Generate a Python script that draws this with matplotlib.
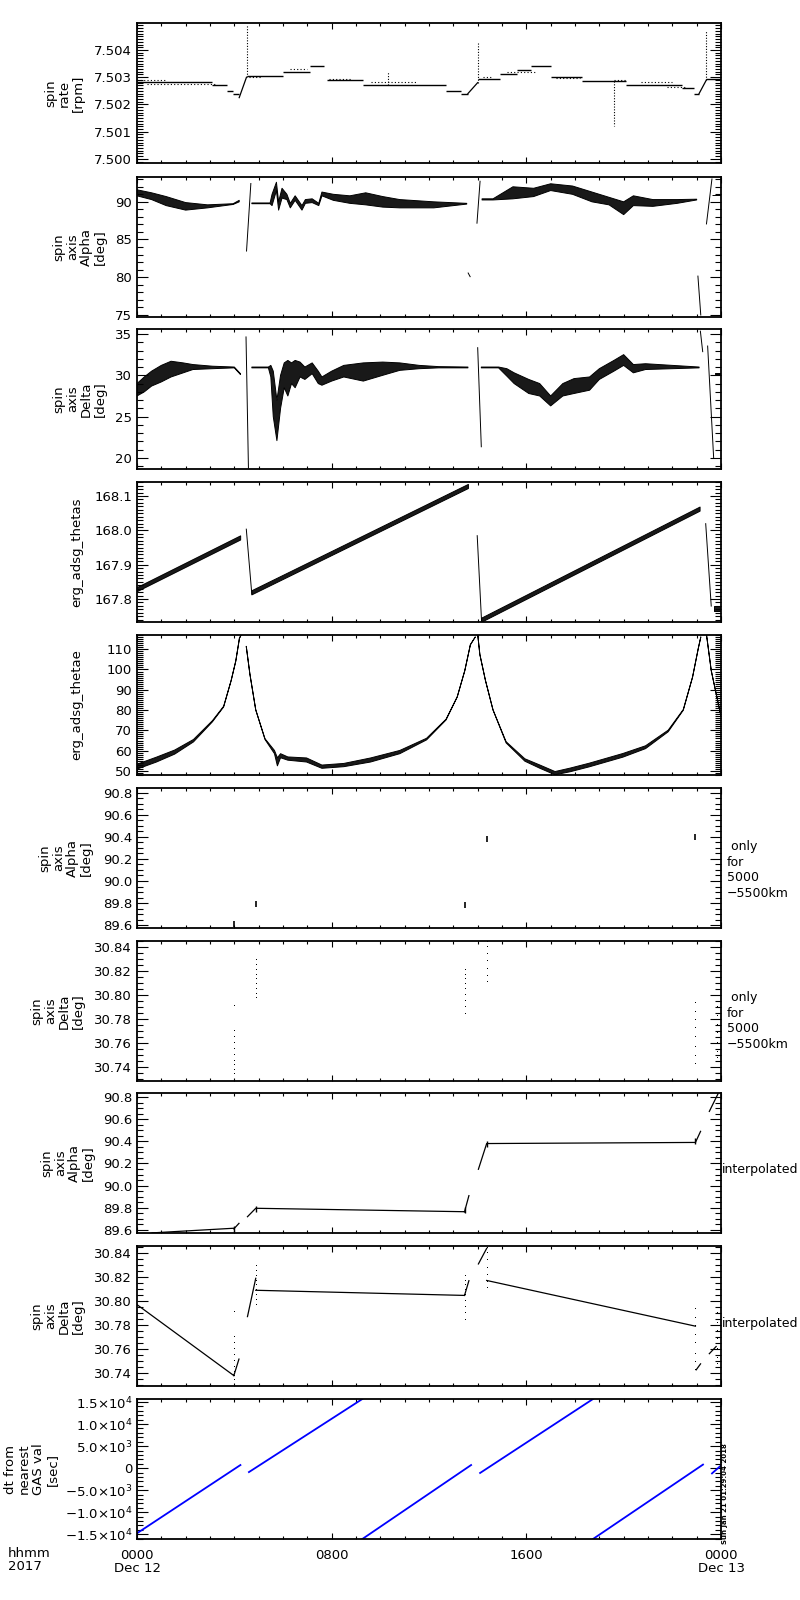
import numpy as np
import matplotlib
matplotlib.use("Agg")
import matplotlib.pyplot as plt
from matplotlib.ticker import MultipleLocator, FixedLocator, FormatStrFormatter, FixedFormatter

nan = np.nan

# time axis in hours after 0000 Dec 12 2017
xtick_hours = [0, 8, 16, 24]
xtick_labels = ["0000\nDec 12", "0800", "1600", "0000\nDec 13"]

# ---- panel 1: spin rate [rpm]
rate_level_start = [0.0, 3.1, 3.7, 3.95, 4.5, 6.0, 7.1, 7.8, 9.3, 12.7, 13.3, 14.0, 14.9, 15.6, 16.2, 17.0, 18.3, 20.1, 22.4, 22.9, 23.4]
rate_level_end = [3.1, 3.7, 3.95, 4.2, 6.0, 7.1, 7.7, 9.3, 12.7, 13.3, 13.6, 14.9, 15.6, 16.2, 17.0, 18.3, 20.1, 22.4, 22.9, 23.1, 24.0]
rate_level = [7.50284, 7.5027, 7.5025, 7.5024, 7.50305, 7.5032, 7.5034, 7.5029, 7.5027, 7.5025, 7.5024,
              7.50295, 7.5031, 7.50325, 7.5034, 7.5030, 7.50285, 7.5027, 7.5026, 7.5024, 7.50295]
rate_dot_start = [0.0, 0.4, 4.6, 6.3, 7.9, 9.6, 14.2, 15.2, 17.2, 19.6, 20.7, 21.8]
rate_dot_end = [1.2, 3.2, 5.1, 7.0, 8.8, 11.5, 14.6, 16.4, 18.2, 20.1, 22.0, 22.6]
rate_dot_v = [7.5029, 7.50275, 7.5030, 7.5033, 7.50295, 7.50282, 7.5030, 7.5032, 7.50297, 7.5029, 7.50282, 7.50265]
rate_ramp_t = [4.2, 4.5, nan, 13.6, 14.0, nan, 23.1, 23.4]
rate_ramp_v = [7.50225, 7.5030, nan, 7.5024, 7.5028, nan, 7.5024, 7.5029]
rate_spike_t = [4.5, 10.3, 14.0, 19.6, 23.4]
rate_spike_base = [7.5030, 7.5027, 7.5028, 7.50285, 7.5029]
rate_spike_tip = [7.5049, 7.5032, 7.5043, 7.50122, 7.5047]

# ---- panel 2: spin axis alpha [deg], noisy band given by lower/upper edge
alpha_t = [0.0, 0.6, 1.2, 2.0, 2.9, 3.95, 4.2, nan,
           4.5, 4.68, nan,
           4.72, 5.47, 5.55, 5.73, 5.82, 5.96, 6.16, 6.3, 6.5, 6.78, 6.92, 7.2, 7.47, 7.6, 8.07, 8.75, 9.4,
           10.1, 10.8, 12.2, 13.55, nan,
           13.6, 13.7, nan,
           13.97, 14.1, nan,
           14.18, 14.63, 15.45, 16.3, 17.0, 17.9, 18.7, 19.4, 20.0, 20.4, 21.2, 22.2, 23.0, nan,
           23.05, 23.17, nan,
           23.4, 23.63, nan,
           23.63, 24.0]
alpha_lo = [90.8, 90.3, 89.5, 88.9, 89.2, 89.65, 90.0, nan,
            83.4, 92.5, nan,
            89.75, 89.75, 89.5, 91.5, 88.9, 90.5, 90.3, 89.2, 90.2, 88.9, 89.8, 89.9, 89.5, 90.8, 90.2, 89.8, 89.6,
            89.3, 89.2, 89.2, 89.7, nan,
            80.6, 80.0, nan,
            87.1, 92.8, nan,
            90.25, 90.25, 90.4, 90.7, 91.5, 91.0, 90.0, 89.6, 88.3, 89.5, 89.4, 89.8, 90.25, nan,
            80.2, 74.9, nan,
            87.0, 93.1, nan,
            90.85, 90.85]
alpha_hi = [91.6, 91.2, 90.7, 89.9, 89.6, 89.75, 90.2, nan,
            83.4, 92.5, nan,
            89.85, 89.85, 91.0, 92.6, 90.0, 91.8, 91.0, 89.8, 90.8, 89.5, 90.3, 90.4, 89.8, 91.3, 91.0, 90.8, 91.2,
            90.7, 90.3, 90.0, 89.8, nan,
            80.6, 80.0, nan,
            87.1, 92.8, nan,
            90.4, 90.4, 92.0, 91.8, 92.4, 92.1, 91.3, 90.6, 90.0, 90.8, 90.3, 90.3, 90.35, nan,
            80.2, 74.9, nan,
            87.0, 93.1, nan,
            90.95, 90.95]

# ---- panel 3: spin axis delta [deg]
delta_t = [0.0, 0.3, 0.6, 1.0, 1.4, 1.9, 2.3, 3.1, 4.0, 4.25, nan,
           4.48, 4.58, nan,
           4.72, 5.4, 5.5, 5.6, 5.75, 5.9, 6.05, 6.2, 6.35, 6.5, 6.7, 6.9, 7.2, 7.45, 7.6, 8.0, 8.5, 9.3, 10.1,
           10.8, 11.6, 12.4, 13.6, nan,
           14.0, 14.15, nan,
           14.15, 14.86, 15.2, 15.5, 16.1, 16.55, 17.0, 17.5, 17.96, 18.6, 19.0, 19.6, 20.0, 20.4, 20.9, 22.0,
           23.1, nan,
           23.15, 23.25, nan,
           23.45, 23.7, nan,
           23.75, 24.0]
delta_lo = [27.5, 28.0, 28.7, 29.2, 29.8, 30.3, 30.7, 30.8, 30.9, 30.1, nan,
            34.7, 18.7, nan,
            30.9, 30.9, 29.8, 25.0, 22.1, 26.0, 28.5, 27.5, 29.0, 28.5, 29.8, 29.5, 30.2, 29.0, 28.8, 29.3, 29.8,
            29.3, 30.0, 30.6, 30.8, 30.9, 30.9, nan,
            33.4, 21.3, nan,
            30.9, 30.9, 29.9, 29.0, 27.8, 27.5, 26.3, 27.5, 27.8, 28.2, 29.5, 30.5, 31.2, 30.3, 30.7, 30.8,
            30.9, nan,
            35.4, 32.8, nan,
            33.6, 19.9, nan,
            30.1, 30.1]
delta_hi = [29.0, 29.8, 30.5, 31.2, 31.7, 31.5, 31.3, 31.1, 31.0, 30.2, nan,
            34.7, 18.7, nan,
            31.0, 31.0, 31.2, 30.5, 27.0, 30.0, 31.5, 31.8, 31.5, 31.8, 31.6, 31.0, 31.5, 30.5, 29.8, 30.5, 31.2,
            31.5, 31.6, 31.5, 31.2, 31.05, 31.0, nan,
            33.4, 21.3, nan,
            31.0, 31.0, 30.8, 30.3, 29.5, 29.0, 27.5, 29.0, 29.6, 29.8, 30.8, 31.8, 32.5, 31.3, 31.4, 31.2,
            31.0, nan,
            35.4, 32.8, nan,
            33.6, 19.9, nan,
            30.3, 30.3]

# ---- panel 4: erg_adsg_thetas (centre value and half width of the band)
thetas_t = [0.0, 4.26, nan, 4.49, 4.72, nan, 4.72, 13.62, nan, 13.98, 14.16, nan, 14.16, 23.14, nan,
            23.37, 23.6, nan, 23.7, 24.0]
thetas_v = [167.827, 167.978, nan, 168.005, 167.813, nan, 167.818, 168.128, nan, 167.986, 167.735, nan,
            167.738, 168.062, nan, 168.021, 167.778, nan, 167.772, 167.772]
thetas_w = [0.006, 0.006, nan, 0.0, 0.0, nan, 0.006, 0.006, nan, 0.0, 0.0, nan, 0.006, 0.006, nan,
            0.0, 0.0, nan, 0.008, 0.008]

# ---- panel 5: erg_adsg_thetae
thetae_t = [0.0, 0.8, 1.55, 2.32, 3.1, 3.56, 3.87, 4.06, 4.21, 4.3, nan,
            4.49, 4.64, 4.88, 5.26, 5.65, 5.77, 5.9, 6.2, 6.97, 7.6, 8.5, 9.6, 10.8, 11.9, 12.7, 13.16, 13.47,
            13.7, 13.9, nan,
            14.0, 14.09, 14.32, 14.63, 15.17, 15.94, 16.56, 17.18, 17.8, 18.58, 19.97, 20.9, 21.83, 22.45, 22.83,
            23.07, 23.17, nan,
            23.4, 23.6, 24.0]
thetae_v = [52.1, 55.6, 59.3, 64.9, 74.5, 81.7, 94.6, 104.2, 115.4, 117.5, nan,
            111.4, 97.7, 80.1, 65.7, 59.3, 54.5, 57.5, 56.1, 55.4, 52.1, 52.9, 55.4, 59.3, 65.7, 75.3, 86.5, 99.4,
            112.2, 116.0, nan,
            117.5, 107.4, 94.6, 80.1, 64.1, 55.4, 52.1, 48.9, 50.5, 52.9, 57.7, 61.7, 69.7, 80.1, 96.2,
            110.6, 116.0, nan,
            117.5, 99.4, 76.9]
thetae_w = [1.2, 1.2, 1.0, 0.6, 0.3, 0.2, 0.0, 0.0, 0.0, 0.0, nan,
            0.0, 0.0, 0.0, 0.2, 0.8, 2.0, 1.0, 0.8, 1.0, 0.8, 0.8, 1.0, 0.8, 0.4, 0.2, 0.0, 0.0,
            0.0, 0.0, nan,
            0.0, 0.0, 0.0, 0.0, 0.3, 0.6, 0.8, 0.8, 0.9, 0.9, 0.9, 0.7, 0.4, 0.2, 0.0,
            0.0, 0.0, nan,
            0.0, 0.0, 0.0]

# ---- panels 6 and 7: values only for 5000-5500 km
alpha_sel_t = [3.98, 4.88, 13.46, 14.37, 22.95]
alpha_sel_v = [89.61, 89.79, 89.78, 90.38, 90.40]
delta_sel_t = [3.98] * 10 + [4.88] * 9 + [13.46] * 9 + [14.37] * 7 + [22.95] * 8 + [23.83] * 7
delta_sel_v = [30.791, 30.770, 30.765, 30.760, 30.755, 30.750, 30.745, 30.741, 30.737, 30.734,
               30.829, 30.825, 30.821, 30.817, 30.813, 30.809, 30.805, 30.801, 30.797,
               30.821, 30.817, 30.813, 30.809, 30.805, 30.800, 30.795, 30.790, 30.784,
               30.844, 30.840, 30.834, 30.828, 30.822, 30.816, 30.811,
               30.793, 30.786, 30.779, 30.772, 30.765, 30.756, 30.749, 30.742,
               30.790, 30.782, 30.775, 30.768, 30.760, 30.752, 30.747]

# ---- panels 8 and 9: interpolated
alpha_int_t = [0.62, 3.98, nan, 3.98, 4.19, nan, 4.54, 4.88, 13.46, nan, 13.46, 13.64, nan,
               14.03, 14.37, 22.95, nan, 22.95, 23.16, nan, 23.52, 23.88]
alpha_int_v = [89.574, 89.616, nan, 89.61, 89.66, nan, 89.72, 89.796, 89.765, nan, 89.765, 89.91, nan,
               90.148, 90.38, 90.39, nan, 90.39, 90.49, nan, 90.67, 90.83]
delta_int_t = [0.0, 3.98, nan, 3.98, 4.19, nan, 4.54, 4.88, nan, 4.88, 13.46, nan, 13.46, 13.64, nan,
               14.03, 14.37, nan, 14.37, 22.95, nan, 22.98, 23.16, nan, 23.52, 23.8]
delta_int_v = [30.797, 30.7377, nan, 30.7377, 30.7515, nan, 30.787, 30.819, nan, 30.809, 30.8047, nan,
               30.8047, 30.817, nan, 30.831, 30.844, nan, 30.8172, 30.779, nan, 30.7425, 30.7475, nan,
               30.756, 30.762]

# ---- panel 10: dt from nearest GAS value [sec]
dt_t = [0.0, 4.25, nan, 4.6, 9.26, nan, 9.26, 13.73, nan, 14.1, 18.74, nan, 18.74, 23.26, nan, 23.63, 24.0]
dt_v = [-14800, 700, nan, -900, 15700, nan, -16100, 700, nan, -1100, 15700, nan, -16100, 800, nan, -1200, 600]
dt_ticks = [-15000, -10000, -5000, 0, 5000, 10000, 15000]
dt_tick_labels = [r"$-1.5{\times}10^{4}$", r"$-1.0{\times}10^{4}$", r"$-5.0{\times}10^{3}$", "0",
                  r"$5.0{\times}10^{3}$", r"$1.0{\times}10^{4}$", r"$1.5{\times}10^{4}$"]

ylabels = ["spin\nrate\n[rpm]", "spin\naxis\nAlpha\n[deg]", "spin\naxis\nDelta\n[deg]",
           "erg_adsg_thetas", "erg_adsg_thetae", "spin\naxis\nAlpha\n[deg]", "spin\naxis\nDelta\n[deg]",
           "spin\naxis\nAlpha\n[deg]", "spin\naxis\nDelta\n[deg]", "dt from\nnearest\nGAS val\n[sec]"]

plt.rcParams["font.family"] = ["DejaVu Sans"]
plt.rcParams["mathtext.fontset"] = "dejavusans"

W, H = 800, 1600
fig = plt.figure(figsize=(W / 100, H / 100), dpi=100)

panel_top = [23, 177, 329, 482, 635, 788, 941, 1093, 1246, 1399]
panel_h = 140
label_right = [85, 107, 107, 83, 83, 93, 85, 95, 85, 59]


def make_axes(i, ylim, majors, minor, fmt):
    top = panel_top[i]
    ax = fig.add_axes([137 / W, 1 - (top + panel_h) / H, 584 / W, panel_h / H])
    ax.set_xlim(0, 24)
    ax.set_ylim(*ylim)
    ax.xaxis.set_major_locator(FixedLocator(xtick_hours))
    ax.xaxis.set_minor_locator(MultipleLocator(1))
    ax.yaxis.set_major_locator(FixedLocator(majors))
    ax.yaxis.set_minor_locator(MultipleLocator(minor))
    if fmt:
        ax.yaxis.set_major_formatter(FormatStrFormatter(fmt))
    ax.tick_params(which="both", direction="in", top=True, right=True, width=0.8,
                   labelsize=9.5, pad=3.5, labelbottom=False)
    ax.tick_params(axis="y", which="major", length=8)
    ax.tick_params(axis="y", which="minor", length=4.5)
    ax.tick_params(axis="x", which="major", length=4.5)
    ax.tick_params(axis="x", which="minor", length=2.3)
    for s in ax.spines.values():
        s.set_linewidth(1.3)
    fig.text(label_right[i] / W, 1 - (top + panel_h / 2) / H, ylabels[i], rotation=90,
             ha="right", va="center", multialignment="center", fontsize=9.5, linespacing=1.1)
    return ax


def band(ax, t, lo, hi):
    ax.fill_between(t, lo, hi, facecolor=(0, 0, 0, 0.9), edgecolor="black", linewidth=0.7)


# panel 1
ax = make_axes(0, (7.49985, 7.50499), [7.500, 7.501, 7.502, 7.503, 7.504], 0.0001, "%.3f")
ax.hlines(rate_level, rate_level_start, rate_level_end, color="black", linewidth=1.0)
ax.hlines(rate_dot_v, rate_dot_start, rate_dot_end, color="black", linewidth=0.8, linestyles=(0, (1, 2)))
ax.plot(rate_ramp_t, rate_ramp_v, color="black", linewidth=0.9)
ax.vlines(rate_spike_t, rate_spike_base, rate_spike_tip, color="black", linewidth=0.8, linestyles=(0, (1, 1.5)))

# panel 2
ax = make_axes(1, (74.7, 93.3), [75, 80, 85, 90], 1, "%d")
band(ax, alpha_t, alpha_lo, alpha_hi)

# panel 3
ax = make_axes(2, (18.67, 35.6), [20, 25, 30, 35], 1, "%d")
band(ax, delta_t, delta_lo, delta_hi)

# panel 4
ax = make_axes(3, (167.733, 168.141), [167.8, 167.9, 168.0, 168.1], 0.01, "%.1f")
tv, tw = np.array(thetas_v), np.array(thetas_w)
band(ax, thetas_t, tv - tw, tv + tw)

# panel 5
ax = make_axes(4, (48, 117), [50, 60, 70, 80, 90, 100, 110], 1, "%d")
ev, ew = np.array(thetae_v), np.array(thetae_w)
band(ax, thetae_t, ev - ew, ev + ew)

# panel 6
ax = make_axes(5, (89.573, 90.845), [89.6, 89.8, 90.0, 90.2, 90.4, 90.6, 90.8], 0.05, "%.1f")
ax.plot(alpha_sel_t, alpha_sel_v, linestyle="none", marker="|", markersize=5, color="black", markeredgewidth=1.2)
fig.text(727 / W, 1 - 870 / H, " only\nfor\n5000\n\u22125500km", ha="left", va="center", fontsize=9, linespacing=1.25)

# panel 7
ax = make_axes(6, (30.728, 30.845), [30.74, 30.76, 30.78, 30.80, 30.82, 30.84], 0.005, "%.2f")
ax.plot(delta_sel_t, delta_sel_v, linestyle="none", marker=",", color="black")
fig.text(727 / W, 1 - 1021 / H, " only\nfor\n5000\n\u22125500km", ha="left", va="center", fontsize=9, linespacing=1.25)

# panel 8
ax = make_axes(7, (89.573, 90.836), [89.6, 89.8, 90.0, 90.2, 90.4, 90.6, 90.8], 0.05, "%.1f")
ax.plot(alpha_int_t, alpha_int_v, color="black", linewidth=0.9)
ax.plot(alpha_sel_t, alpha_sel_v, linestyle="none", marker="|", markersize=5, color="black", markeredgewidth=1.0)
fig.text(722 / W, 1 - 1170 / H, "interpolated", ha="left", va="center", fontsize=9)

# panel 9
ax = make_axes(8, (30.729, 30.846), [30.74, 30.76, 30.78, 30.80, 30.82, 30.84], 0.005, "%.2f")
ax.plot(delta_int_t, delta_int_v, color="black", linewidth=0.9)
ax.plot(delta_sel_t, delta_sel_v, linestyle="none", marker=",", color="black")
fig.text(722 / W, 1 - 1323 / H, "interpolated", ha="left", va="center", fontsize=9)

# panel 10
ax = make_axes(9, (-16100, 15700), dt_ticks, 1000, None)
ax.yaxis.set_major_formatter(FixedFormatter(dt_tick_labels))
ax.plot(dt_t, dt_v, color="#0000ff", linewidth=1.3)
ax.xaxis.set_major_formatter(FixedFormatter(xtick_labels))
ax.tick_params(axis="x", which="major", labelbottom=True, pad=7, labelsize=9.5)
for lab in ax.get_xticklabels():
    lab.set_linespacing(1.05)
fig.text(8 / W, 1 - 1547 / H, "hhmm\n2017", ha="left", va="top", fontsize=9.5, linespacing=1.05)
fig.text(725 / W, 1 - 1494 / H, "Sun Jan 21 01:29:04 2018", rotation=90, ha="center", va="center",
         fontsize=5, fontweight="bold")

fig.savefig("out.png", dpi=100)
